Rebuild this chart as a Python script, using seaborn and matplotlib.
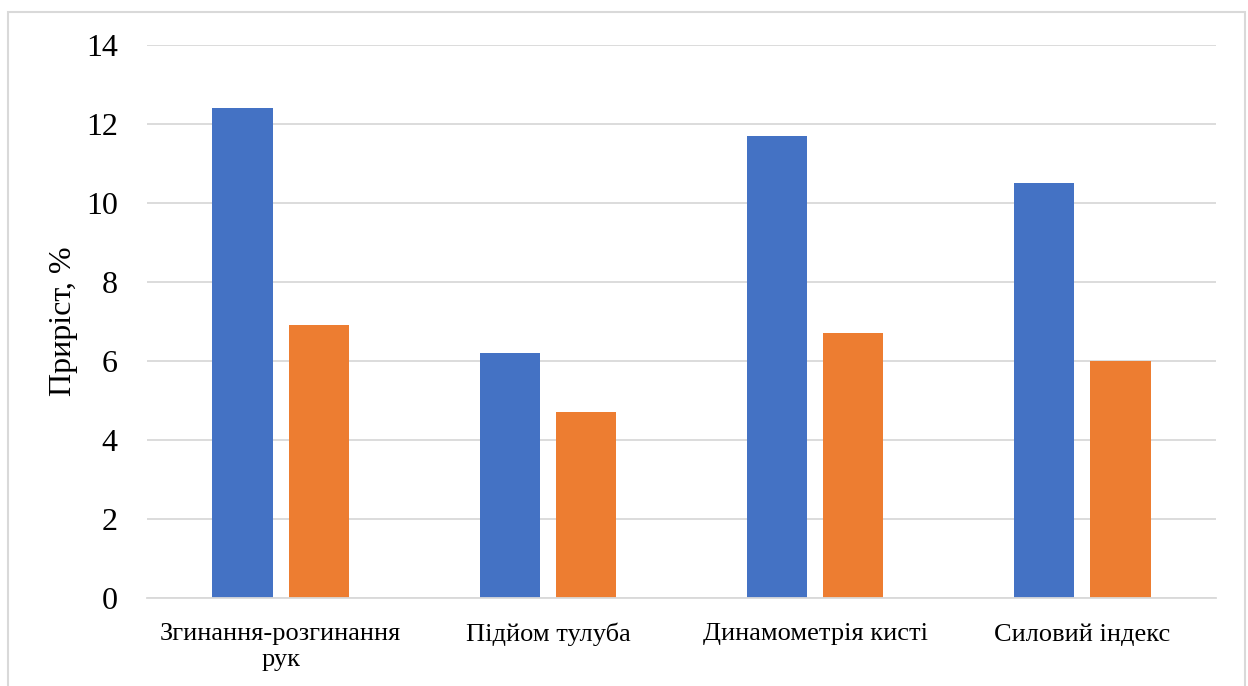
import matplotlib
matplotlib.use("Agg")
import matplotlib.pyplot as plt
import seaborn as sns
import pandas as pd
from matplotlib.patches import Rectangle

categories = ["Згинання-розгинання\nрук", "Підйом тулуба", "Динамометрія кисті", "Силовий індекс"]
series_names = ["Група 1", "Група 2"]
values_1 = [12.4, 6.2, 11.7, 10.5]
values_2 = [6.9, 4.7, 6.7, 6.0]
y_ticks = [0, 2, 4, 6, 8, 10, 12, 14]
y_label = "Приріст, %"

df = pd.DataFrame({
    "cat": categories * 2,
    "val": values_1 + values_2,
    "grp": [series_names[0]] * 4 + [series_names[1]] * 4,
})

sns.set_theme(style="white")
plt.rcParams["font.family"] = ["Liberation Serif", "DejaVu Serif"]
plt.rcParams["text.color"] = "black"

fig = plt.figure(figsize=(12.48, 6.86), dpi=100)
ax = fig.add_axes([147/1248, 1 - 598/686, (1216-147)/1248, (598-45)/686])

sns.barplot(data=df, x="cat", y="val", hue="grp", order=categories,
            palette=["#4472C4", "#ED7D31"], width=0.57, gap=0.21,
            legend=False, ax=ax, saturation=1, edgecolor="none")

ax.set_ylim(0, 14)
ax.set_xlim(-0.5, 3.5)
ax.set_yticks(y_ticks)
ax.set_yticklabels([str(t) for t in y_ticks], fontsize=23)
ax.tick_params(axis="x", labelsize=19, length=0, pad=18, labelcolor="black")
ax.tick_params(axis="y", length=0, pad=21, labelcolor="black")
for lbl in ax.get_xticklabels():
    lbl.set_linespacing(1.25)
    lbl.set_verticalalignment("top")
ax.grid(axis="y", color="#d9d9d9", linewidth=1.3)
ax.set_axisbelow(True)
for s in ["top", "right", "left"]:
    ax.spines[s].set_visible(False)
ax.spines["bottom"].set_color("#d9d9d9")
ax.spines["bottom"].set_linewidth(1.3)
ax.set_xlabel("")
ax.set_ylabel(y_label, fontsize=23, labelpad=6, color="black")

fig.patches.append(Rectangle((8/1248, -0.05), (1245-8)/1248, 1 - 12/686 + 0.05,
                             transform=fig.transFigure, fill=False,
                             edgecolor="#d9d9d9", linewidth=1.5))

fig.savefig("out.png", dpi=100)
